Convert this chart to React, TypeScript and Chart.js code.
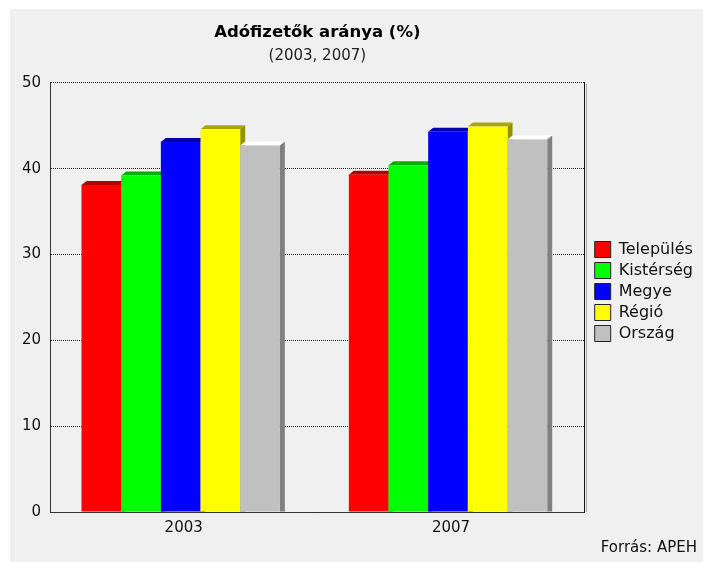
import { useEffect, useRef } from 'react';
import { Chart, registerables } from 'chart.js';

Chart.register(...registerables);

const categories = ['2003', '2007'];
const seriesNames = ['Település', 'Kistérség', 'Megye', 'Régió', 'Ország'];
const telepules = [38.1, 39.3];
const kisterseg = [39.2, 40.4];
const megye = [43.1, 44.3];
const regio = [44.6, 44.9];
const orszag = [42.7, 43.4];
const yMin = 0;
const yMax = 50;
const yStep = 10;
const titleText = 'Adófizetők aránya (%)';
const subtitleText = '(2003, 2007)';
const sourceText = 'Forrás: APEH';

const frontColors = ['#ff0000', '#00ff00', '#0000ff', '#ffff00', '#c0c0c0'];
const topColors = ['#b00000', '#00b000', '#0000b0', '#a8a800', '#ffffff'];
const sideColors = ['#800000', '#008000', '#000080', '#929200', '#808080'];

const FONT = '"DejaVu Sans", Verdana, sans-serif';
const DX = 5;
const DY = 4;
const SHIFT = -3;

const bars3dPlugin = {
  id: 'bars3d',
  afterDatasetsDraw(chart: any) {
    const ctx = chart.ctx;
    const n = chart.data.datasets.length;
    ctx.save();
    for (let j = 0; j < categories.length; j++) {
      for (let i = 0; i < n; i++) {
        const meta = chart.getDatasetMeta(i);
        const el = meta.data[j];
        if (!el) continue;
        const { x, y, base, width } = el.getProps(['x', 'y', 'base', 'width'], true);
        const left = x - width / 2 + SHIFT;
        const right = x + width / 2 + SHIFT;
        ctx.fillStyle = topColors[i];
        ctx.beginPath();
        ctx.moveTo(left, y);
        ctx.lineTo(left + DX, y - DY);
        ctx.lineTo(right + DX, y - DY);
        ctx.lineTo(right, y);
        ctx.closePath();
        ctx.fill();
        ctx.fillStyle = sideColors[i];
        ctx.beginPath();
        ctx.moveTo(right, y);
        ctx.lineTo(right + DX, y - DY);
        ctx.lineTo(right + DX, base);
        ctx.lineTo(right, base);
        ctx.closePath();
        ctx.fill();
        ctx.fillStyle = frontColors[i];
        ctx.fillRect(left, y, width, base - y);
      }
    }
    ctx.restore();
  },
};

const sourcePlugin = {
  id: 'sourceNote',
  afterDraw(chart: any) {
    const ctx = chart.ctx;
    const area = chart.chartArea;
    ctx.save();
    ctx.strokeStyle = '#a8a8a8';
    ctx.lineWidth = 1;
    ctx.beginPath();
    ctx.moveTo(Math.round(area.right) + 1.5, area.top + 1);
    ctx.lineTo(Math.round(area.right) + 1.5, area.bottom);
    ctx.stroke();
    ctx.font = '15px ' + FONT;
    ctx.fillStyle = '#111';
    ctx.textAlign = 'right';
    ctx.textBaseline = 'middle';
    ctx.fillText(sourceText, chart.width - 6, chart.height - 14);
    ctx.restore();
  },
};

export default function App() {
  const ref = useRef<HTMLCanvasElement>(null);

  useEffect(() => {
    if (!ref.current) return;
    const values = [telepules, kisterseg, megye, regio, orszag];
    const chart = new Chart(ref.current, {
      type: 'bar',
      data: {
        labels: categories,
        datasets: seriesNames.map((name, i) => ({
          label: name,
          data: values[i],
          backgroundColor: 'rgba(0,0,0,0)',
          borderWidth: 0,
          categoryPercentage: 0.742,
          barPercentage: 1,
        })),
      },
      options: {
        responsive: false,
        animation: false,
        devicePixelRatio: 1,
        layout: { padding: { left: 0, right: 0, top: 0, bottom: 0 } },
        font: { family: FONT },
        plugins: {
          title: {
            display: true,
            text: titleText,
            fullSize: false,
            color: '#000',
            font: { family: FONT, size: 16.5, weight: 'bold' },
            padding: { top: 14, bottom: 0 },
          },
          subtitle: {
            display: true,
            text: subtitleText,
            fullSize: false,
            color: '#222',
            font: { family: FONT, size: 15 },
            padding: { top: 4, bottom: 18 },
          },
          legend: {
            position: 'right',
            align: 'center',
            title: {
              display: true,
              text: ' ',
              padding: 0,
              font: { family: FONT, size: 10 },
            },
            labels: {
              boxWidth: 16,
              boxHeight: 16,
              padding: 5,
              color: '#111',
              font: { family: FONT, size: 16 },
              generateLabels: (c: any) =>
                Chart.defaults.plugins.legend.labels
                  .generateLabels(c)
                  .map((l: any) => ({
                    ...l,
                    fillStyle: frontColors[l.datasetIndex],
                    strokeStyle: '#222',
                    lineWidth: 1,
                  })),
            },
          },
          tooltip: { enabled: false },
        },
        scales: {
          x: {
            grid: { display: false, drawTicks: false },
            border: { display: true, color: '#333', width: 1 },
            ticks: { color: '#111', padding: 7, font: { family: FONT, size: 15 } },
            afterFit: (s: any) => {
              s.height = 50;
            },
          },
          y: {
            min: yMin,
            max: yMax,
            grid: { color: '#222', drawTicks: false, lineWidth: 1 },
            border: { display: true, color: '#333', width: 1, dash: [1, 1] },
            ticks: { stepSize: yStep, color: '#111', padding: 9, font: { family: FONT, size: 15 } },
            afterFit: (s: any) => {
              s.width = 40;
            },
          },
          y2: {
            position: 'right',
            display: true,
            grid: { drawOnChartArea: false, drawTicks: false },
            border: { display: true, color: '#111', width: 1 },
            ticks: { display: false },
            afterFit: (s: any) => {
              s.width = 5;
            },
          },
        },
      } as any,
      plugins: [bars3dPlugin, sourcePlugin],
    });
    return () => chart.destroy();
  }, []);

  return (
    <div
      style={{
        position: 'absolute',
        left: 10,
        top: 9,
        width: 693,
        height: 553,
        background: '#f0f0f0',
      }}
    >
      <canvas ref={ref} width={693} height={553} style={{ display: 'block' }} />
    </div>
  );
}
